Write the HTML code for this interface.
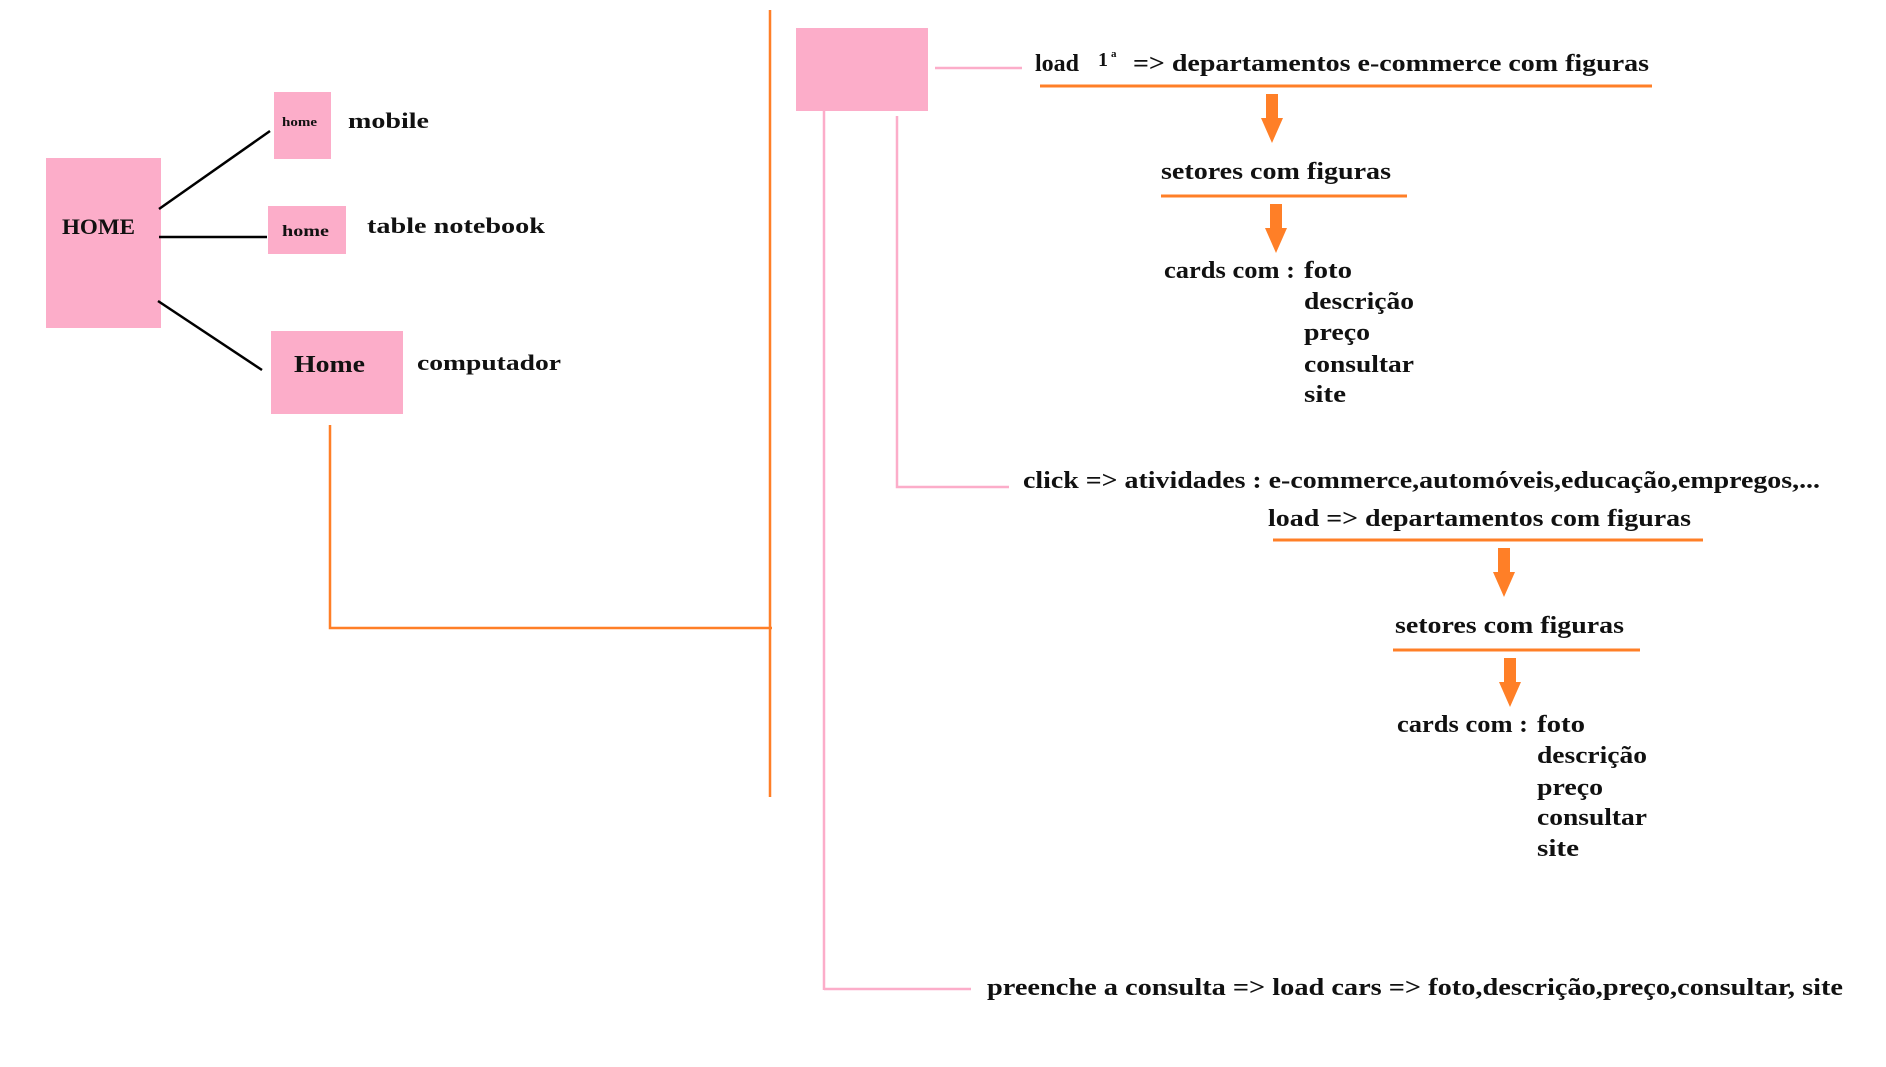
<!DOCTYPE html>
<html><head><meta charset="utf-8"><style>
html,body{margin:0;padding:0;background:#fff;width:1886px;height:1067px;overflow:hidden}
svg{display:block}
text{font-family:"Liberation Serif",serif;font-weight:bold;fill:#111}
</style></head><body>
<svg width="1886" height="1067" xmlns="http://www.w3.org/2000/svg">
<!-- left boxes -->
<rect x="46" y="158" width="115" height="170" fill="#FCADC9"/>
<rect x="274" y="92" width="57" height="67" fill="#FCADC9"/>
<rect x="268" y="206" width="78" height="48" fill="#FCADC9"/>
<rect x="271" y="331" width="132" height="83" fill="#FCADC9"/>
<line x1="159" y1="209" x2="270" y2="131" stroke="#000" stroke-width="2.5"/>
<line x1="159" y1="237" x2="267" y2="237" stroke="#000" stroke-width="2.5"/>
<line x1="158" y1="301" x2="262" y2="370" stroke="#000" stroke-width="2.5"/>
<text x="62" y="234" font-size="22" textLength="73" lengthAdjust="spacingAndGlyphs">HOME</text>
<text x="282" y="126" font-size="13" textLength="35" lengthAdjust="spacingAndGlyphs">home</text>
<text x="282" y="236" font-size="16" textLength="47" lengthAdjust="spacingAndGlyphs">home</text>
<text x="294" y="372" font-size="24" textLength="71" lengthAdjust="spacingAndGlyphs">Home</text>
<text x="348" y="128" font-size="22" textLength="81" lengthAdjust="spacingAndGlyphs">mobile</text>
<text x="367" y="233" font-size="22" textLength="178" lengthAdjust="spacingAndGlyphs">table notebook</text>
<text x="417" y="370" font-size="22" textLength="144" lengthAdjust="spacingAndGlyphs">computador</text>
<!-- orange connectors -->
<polyline points="330,425 330,628 772,628" fill="none" stroke="#FF7F27" stroke-width="2.5"/>
<line x1="770" y1="10" x2="770" y2="797" stroke="#FF7F27" stroke-width="2.5"/>
<!-- right pink -->
<rect x="796" y="28" width="132" height="83" fill="#FCADC9"/>
<line x1="935" y1="68" x2="1022" y2="68" stroke="#FCADC9" stroke-width="2.5"/>
<line x1="824" y1="111" x2="824" y2="990" stroke="#FCADC9" stroke-width="2.5"/>
<line x1="824" y1="989" x2="971" y2="989" stroke="#FCADC9" stroke-width="2.5"/>
<polyline points="897,116 897,487 1009,487" fill="none" stroke="#FCADC9" stroke-width="2.5"/>
<!-- top flow -->
<text x="1035" y="71" font-size="24">load</text>
<text x="1098" y="66" font-size="20">1</text><text x="1111" y="57" font-size="11">a</text>
<text x="1133" y="71" font-size="24" textLength="516" lengthAdjust="spacingAndGlyphs">=&gt; departamentos e-commerce com figuras</text>
<line x1="1040" y1="86" x2="1652" y2="86" stroke="#FF7F27" stroke-width="3"/>
<polygon points="1266,94 1278,94 1278,118 1283,118 1272,143 1261,118 1266,118" fill="#FF7F27"/>
<text x="1161" y="179" font-size="24" textLength="230" lengthAdjust="spacingAndGlyphs">setores com figuras</text>
<line x1="1161" y1="196" x2="1407" y2="196" stroke="#FF7F27" stroke-width="3"/>
<polygon points="1270,204 1282,204 1282,228 1287,228 1276,253 1265,228 1270,228" fill="#FF7F27"/>
<text x="1164" y="278" font-size="24" textLength="131" lengthAdjust="spacingAndGlyphs">cards com :</text>
<text x="1304" y="278" font-size="24" textLength="48" lengthAdjust="spacingAndGlyphs">foto</text>
<text x="1304" y="309" font-size="24" textLength="110" lengthAdjust="spacingAndGlyphs">descrição</text>
<text x="1304" y="340" font-size="24" textLength="66" lengthAdjust="spacingAndGlyphs">preço</text>
<text x="1304" y="372" font-size="24" textLength="110" lengthAdjust="spacingAndGlyphs">consultar</text>
<text x="1304" y="402" font-size="24" textLength="42" lengthAdjust="spacingAndGlyphs">site</text>
<!-- click flow -->
<text x="1023" y="488" font-size="24" textLength="797" lengthAdjust="spacingAndGlyphs">click =&gt; atividades : e-commerce,automóveis,educação,empregos,...</text>
<text x="1268" y="526" font-size="24" textLength="423" lengthAdjust="spacingAndGlyphs">load =&gt; departamentos com figuras</text>
<line x1="1273" y1="540" x2="1703" y2="540" stroke="#FF7F27" stroke-width="3"/>
<polygon points="1498,548 1510,548 1510,572 1515,572 1504,597 1493,572 1498,572" fill="#FF7F27"/>
<text x="1395" y="633" font-size="24" textLength="229" lengthAdjust="spacingAndGlyphs">setores com figuras</text>
<line x1="1393" y1="650" x2="1640" y2="650" stroke="#FF7F27" stroke-width="3"/>
<polygon points="1504,658 1516,658 1516,682 1521,682 1510,707 1499,682 1504,682" fill="#FF7F27"/>
<text x="1397" y="732" font-size="24" textLength="131" lengthAdjust="spacingAndGlyphs">cards com :</text>
<text x="1537" y="732" font-size="24" textLength="48" lengthAdjust="spacingAndGlyphs">foto</text>
<text x="1537" y="763" font-size="24" textLength="110" lengthAdjust="spacingAndGlyphs">descrição</text>
<text x="1537" y="795" font-size="24" textLength="66" lengthAdjust="spacingAndGlyphs">preço</text>
<text x="1537" y="825" font-size="24" textLength="110" lengthAdjust="spacingAndGlyphs">consultar</text>
<text x="1537" y="856" font-size="24" textLength="42" lengthAdjust="spacingAndGlyphs">site</text>
<!-- bottom -->
<text x="987" y="995" font-size="24" textLength="856" lengthAdjust="spacingAndGlyphs">preenche a consulta =&gt; load cars =&gt; foto,descrição,preço,consultar, site</text>
</svg>
</body></html>
